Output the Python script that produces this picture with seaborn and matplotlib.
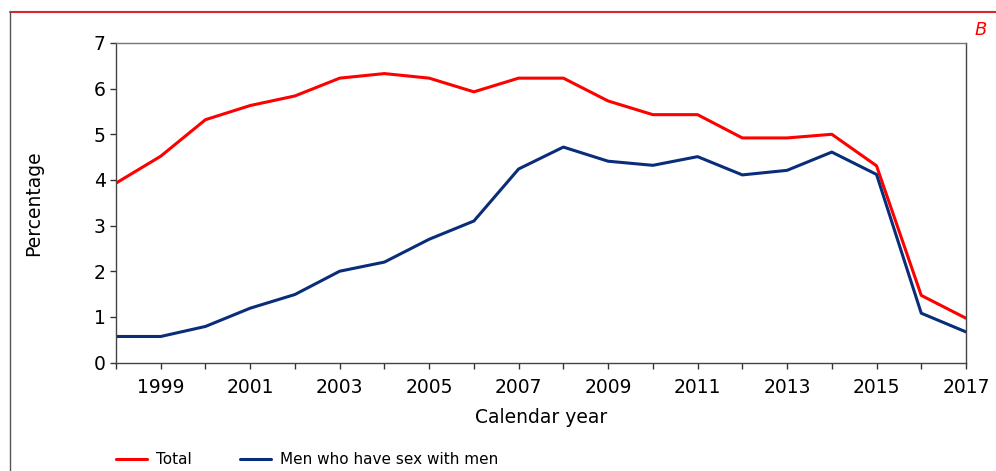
import matplotlib
matplotlib.use("Agg")
import matplotlib.pyplot as plt
from matplotlib.lines import Line2D
import seaborn as sns
import pandas as pd

years = list(range(1998, 2018))
total = [3.93, 4.52, 5.32, 5.63, 5.84, 6.23, 6.33, 6.23, 5.93, 6.23,
         6.23, 5.73, 5.43, 5.43, 4.92, 4.92, 5.00, 4.31, 1.47, 0.97]
msm = [0.57, 0.57, 0.79, 1.19, 1.49, 2.00, 2.20, 2.70, 3.10, 4.24,
       4.72, 4.41, 4.32, 4.51, 4.11, 4.21, 4.61, 4.12, 1.08, 0.67]
series_names = ["Total", "Men who have sex with men"]
y_ticks = [0, 1, 2, 3, 4, 5, 6, 7]
x_label_years = [y for y in years if y % 2 == 1]

df = pd.DataFrame({
    "year": years * 2,
    "value": total + msm,
    "series": [series_names[0]] * len(years) + [series_names[1]] * len(years),
})

sns.set_style("white")
plt.rcParams["font.family"] = ["DejaVu Sans"]
plt.rcParams["text.color"] = "black"
plt.rcParams["axes.labelcolor"] = "black"
plt.rcParams["xtick.color"] = "black"
plt.rcParams["ytick.color"] = "black"

fig = plt.figure(figsize=(9.96, 4.71), dpi=100)
ax = fig.add_axes([116 / 996, 1 - 362.5 / 471, 850 / 996, 319.5 / 471])

sns.lineplot(data=df, x="year", y="value", hue="series",
             palette={series_names[0]: "#FF0000", series_names[1]: "#0A2D7A"},
             linewidth=2.2, ax=ax)

handles, labels = ax.get_legend_handles_labels()
if ax.get_legend() is not None:
    ax.get_legend().remove()

ax.set_xlim(1998, 2017)
ax.set_ylim(0, 7)
ax.set_yticks(y_ticks)
ax.set_yticklabels([str(v) for v in y_ticks])
ax.set_xticks(years)
ax.set_xticklabels([str(y) if y in x_label_years else "" for y in years])
ax.tick_params(axis="x", direction="out", length=4, width=1, color="#333333",
               labelcolor="black", labelsize=13.5, pad=7, bottom=True)
ax.tick_params(axis="y", direction="out", length=4, width=1, color="#333333",
               labelcolor="black", labelsize=13.5, pad=3.5, left=True)
for s in ax.spines.values():
    s.set_color("#444444")
    s.set_linewidth(1.0)
ax.spines["top"].set_color("#777777")

ax.set_xlabel("Calendar year", fontsize=13.5, color="black")
ax.set_ylabel("Percentage", fontsize=13.5, color="black")
ax.xaxis.set_label_coords(0.5, (362.5 - 408) / 319.5)
ax.yaxis.set_label_coords((43 - 116) / 850, 0.5)

leg = fig.legend(handles, labels, loc="center left",
                 bbox_to_anchor=(116 / 996, 1 - 460 / 471), ncol=2, frameon=False,
                 handlelength=2.0, handletextpad=0.6, columnspacing=3.2,
                 borderpad=0, borderaxespad=0, fontsize=11)
for t in leg.get_texts():
    t.set_color("black")

# panel frame decorations
fig.add_artist(Line2D([10 / 996, 1], [1 - 12 / 471, 1 - 12 / 471],
                      transform=fig.transFigure, color="#D7262E", linewidth=1.5))
fig.add_artist(Line2D([10 / 996, 10 / 996], [0, 1 - 12 / 471],
                      transform=fig.transFigure, color="#555555", linewidth=1.0))
fig.text(987 / 996, 1 - 30 / 471, "B", color="#FF0000", fontsize=13,
         fontstyle="italic", ha="right", va="center")

fig.savefig("out.png", dpi=100)
